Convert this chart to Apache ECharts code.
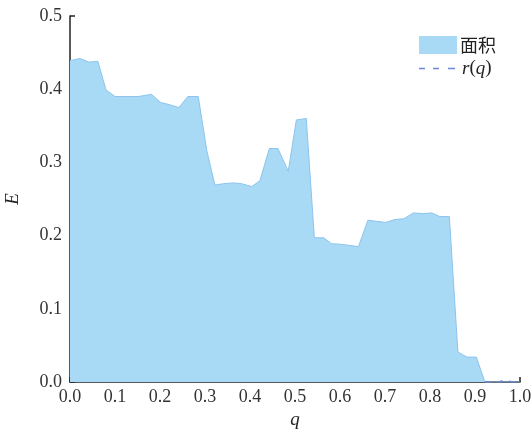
<!DOCTYPE html>
<html>
<head>
<meta charset="utf-8">
<style>
  html, body { margin: 0; padding: 0; background: #fff; }
  #chart { width: 532px; height: 434px; }
</style>
<script src="https://cdn.jsdelivr.net/npm/echarts@6/dist/echarts.min.js"></script>
</head>
<body>
<div id="chart"></div>
<script>
// q positions of the sampled points
var qValues = [0.000, 0.022, 0.042, 0.062, 0.080, 0.100, 0.152, 0.181, 0.201, 0.220,
               0.242, 0.262, 0.285, 0.304, 0.322, 0.342, 0.363, 0.381, 0.404, 0.422,
               0.443, 0.462, 0.485, 0.503, 0.525, 0.543, 0.564, 0.581, 0.604, 0.641,
               0.662, 0.702, 0.722, 0.742, 0.763, 0.785, 0.804, 0.822, 0.843, 0.862,
               0.882, 0.903, 0.922, 0.960, 1.000];
// area values E at each q
var areaValues = [0.439, 0.442, 0.437, 0.438, 0.399, 0.390, 0.390, 0.393, 0.382, 0.379,
                  0.375, 0.390, 0.390, 0.316, 0.269, 0.271, 0.272, 0.271, 0.267, 0.275,
                  0.319, 0.319, 0.288, 0.358, 0.360, 0.197, 0.197, 0.189, 0.188, 0.185,
                  0.221, 0.218, 0.222, 0.223, 0.231, 0.230, 0.231, 0.226, 0.226, 0.041,
                  0.034, 0.034, 0.000, 0.000, 0.000];
// r(q) curve, only visible near the right end
var rQ = [0.922, 0.950, 0.962, 0.972, 0.985, 1.000];
var rValues = [0.000, 0.000, 0.0015, 0.0015, 0.000, 0.000];

var xTicks = ['0.0','0.1','0.2','0.3','0.4','0.5','0.6','0.7','0.8','0.9','1.0'];
var yTicks = ['0.0','0.1','0.2','0.3','0.4','0.5'];

function pairs(xs, ys) {
  return xs.map(function (x, i) { return [x, ys[i]]; });
}

var serif = '"Liberation Serif", "Times New Roman", serif';
var axisColor = '#222';
// dashed-line legend glyph; the two tiny corner squares fix the icon's box to 38x18
var dashIcon = 'path://M0,0h0.05v0.05h-0.05z M38,18h-0.05v-0.05h0.05z ' +
               'M0,8.3h6v1.5h-6z M14,8.3h6v1.5h-6z M29,8.3h7v1.5h-7z';

var chart = echarts.init(document.getElementById('chart'), null, { renderer: 'canvas' });
chart.setOption({
  animation: false,
  backgroundColor: '#fff',
  grid: { left: 70, right: 12, top: 16, bottom: 52, containLabel: false, outerBoundsMode: 'none' },
  legend: {
    orient: 'vertical',
    left: 414,
    top: 31,
    itemWidth: 38,
    itemHeight: 18,
    itemGap: 5,
    textStyle: { fontFamily: serif, fontSize: 19, color: '#222' },
    formatter: function (name) {
      return name === 'r(q)' ? '{i|r}{n|(}{i|q}{n|)}' : name;
    },
    data: [
      { name: '面积', icon: 'rect', textStyle: { fontFamily: '"Noto Sans CJK SC", serif', fontSize: 18, padding: [0, 0, 0, -2] } },
      { name: 'r(q)', icon: dashIcon,
        textStyle: { rich: {
          i: { fontFamily: serif, fontSize: 19, fontStyle: 'italic', color: '#222' },
          n: { fontFamily: serif, fontSize: 19, color: '#222' } } } }
    ]
  },
  xAxis: {
    type: 'value',
    min: 0, max: 1, interval: 0.1,
    name: 'q',
    nameLocation: 'middle',
    nameGap: 28,
    nameTextStyle: { fontFamily: serif, fontSize: 19, fontStyle: 'italic', color: '#222' },
    axisLine: { lineStyle: { color: axisColor, width: 1.5 } },
    axisTick: { inside: true, length: 5, lineStyle: { color: axisColor, width: 1.5 } },
    axisLabel: {
      fontFamily: serif, fontSize: 18, color: '#333', margin: 6,
      formatter: function (v) { return xTicks[Math.round(v * 10)]; }
    },
    splitLine: { show: false }
  },
  yAxis: {
    type: 'value',
    min: 0, max: 0.5, interval: 0.1,
    name: 'E',
    nameLocation: 'middle',
    nameGap: 48,
    nameRotate: 90,
    nameTextStyle: { fontFamily: serif, fontSize: 19, fontStyle: 'italic', color: '#222' },
    axisLine: { show: true, lineStyle: { color: axisColor, width: 1.5 } },
    axisTick: { show: true, inside: true, length: 5, lineStyle: { color: axisColor, width: 1.5 } },
    axisLabel: {
      fontFamily: serif, fontSize: 18, color: '#333', margin: 8,
      formatter: function (v) { return yTicks[Math.round(v * 10)]; }
    },
    splitLine: { show: false }
  },
  series: [
    {
      name: '面积',
      type: 'line',
      data: pairs(qValues, areaValues),
      symbol: 'none',
      lineStyle: { color: '#8cc3ec', width: 1 },
      itemStyle: { color: '#a8daf6', borderColor: '#8cc3ec' },
      areaStyle: { color: '#a8daf6', opacity: 1 },
      z: 1
    },
    {
      name: 'r(q)',
      type: 'line',
      data: pairs(rQ, rValues),
      symbol: 'none',
      itemStyle: { color: '#6a88d6' },
      lineStyle: { color: '#6a88d6', width: 1.5, type: [6, 6] },
      z: 3
    }
  ]
});
</script>
</body>
</html>
